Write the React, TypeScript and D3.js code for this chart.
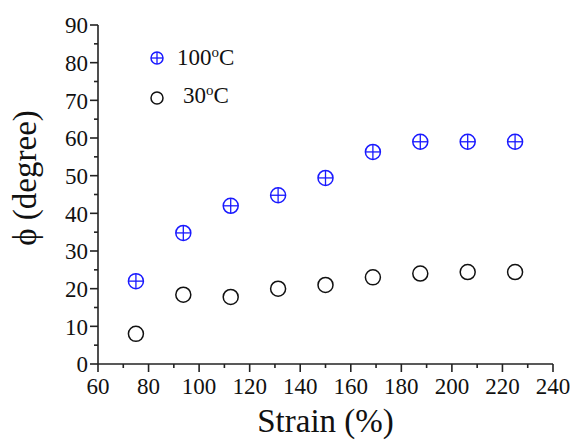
import * as d3 from "d3";
import React from "react";

// strain values (%)
const strain = [75, 93.75, 112.5, 131.25, 150, 168.75, 187.5, 206.25, 225];
// phase angle at 100 C
const phi100 = [22, 34.8, 42, 44.8, 49.4, 56.3, 59, 59, 59];
// phase angle at 30 C
const phi30 = [8, 18.4, 17.8, 20, 21, 23, 24, 24.4, 24.4];

const xTicks = [60, 80, 100, 120, 140, 160, 180, 200, 220, 240];
const yTicks = [0, 10, 20, 30, 40, 50, 60, 70, 80, 90];
const xMinor = [70, 90, 110, 130, 150, 170, 190, 210, 230];
const yMinor = [5, 15, 25, 35, 45, 55, 65, 75, 85];

const font = "Liberation Serif";
const ink = "#111";
const blue = "#1a1aff";

const width = 576, height = 441;
const margin = {left: 98, right: 23, top: 25, bottom: 77};

const x = d3.scaleLinear().domain([60, 240]).range([margin.left, width - margin.right]);
const y = d3.scaleLinear().domain([0, 90]).range([height - margin.bottom, margin.top]);

// circle with a cross inside
const CirclePlus = ({cx, cy, r}) => (
    <g stroke={blue} fill="none">
        <circle cx={cx} cy={cy} r={r} strokeWidth={1.5}/>
        <line x1={cx - r} x2={cx + r} y1={cy} y2={cy} strokeWidth={1.3}/>
        <line x1={cx} x2={cx} y1={cy - r} y2={cy + r} strokeWidth={1.3}/>
    </g>
);

const LegendLabel = ({tx, ty, num}) => (
    <text x={tx} y={ty} fill={ink} style={{fontFamily: font, fontSize: "23px"}}>
        <tspan>{num}</tspan>
        <tspan dy={-8} style={{fontSize: "15px"}}>o</tspan>
        <tspan dy={8}>C</tspan>
    </text>
);

const App = () => {
    const y0 = y(0);
    const x0 = x(60);
    const r = 7.5;

    return (
        <svg width={width} height={height} style={{display: "block", position: "absolute", left: 0, top: 0, background: "#fff"}}>
            {/* axes */}
            <g stroke="#222" strokeWidth={1.6}>
                <line x1={x0} x2={x(240)} y1={y0} y2={y0}/>
                {xTicks.map(t => <line key={t} x1={x(t)} x2={x(t)} y1={y0} y2={y0 + 8}/>)}
                {xMinor.map(t => <line key={t} x1={x(t)} x2={x(t)} y1={y0} y2={y0 + 4}/>)}
                <line x1={x0} x2={x0} y1={y0} y2={y(90)}/>
                {yTicks.map(t => <line key={t} x1={x0 - 8} x2={x0} y1={y(t)} y2={y(t)}/>)}
                {yMinor.map(t => <line key={t} x1={x0 - 4} x2={x0} y1={y(t)} y2={y(t)}/>)}
            </g>
            <g fill={ink} style={{fontFamily: font, fontSize: "23px"}}>
                {xTicks.map(t => (
                    <text key={t} x={x(t)} y={y0 + 30} textAnchor="middle">{t}</text>
                ))}
                {yTicks.map(t => (
                    <text key={t} x={x0 - 10} y={y(t)} dy="0.36em" textAnchor="end">{t}</text>
                ))}
            </g>

            {/* axis titles */}
            <text x={(x0 + x(240)) / 2} y={432} textAnchor="middle" fill={ink}
                  style={{fontFamily: font, fontSize: "33px"}}>Strain (%)</text>
            <text transform={`translate(36,178) rotate(-90)`} textAnchor="middle" fill={ink}
                  style={{fontFamily: font, fontSize: "33px"}}>{"\u03D5 (degree)"}</text>

            {/* 30 C */}
            {strain.map((s, i) => (
                <circle key={s} cx={x(s)} cy={y(phi30[i])} r={r} fill="none" stroke={ink} strokeWidth={1.5}/>
            ))}
            {/* 100 C */}
            {strain.map((s, i) => (
                <CirclePlus key={s} cx={x(s)} cy={y(phi100[i])} r={r}/>
            ))}

            {/* legend */}
            <CirclePlus cx={157} cy={58} r={6}/>
            <circle cx={157} cy={98} r={6} fill="none" stroke={ink} strokeWidth={1.5}/>
            <LegendLabel tx={177} ty={65} num="100"/>
            <LegendLabel tx={183} ty={103} num="30"/>
        </svg>
    );
};

export default App;
